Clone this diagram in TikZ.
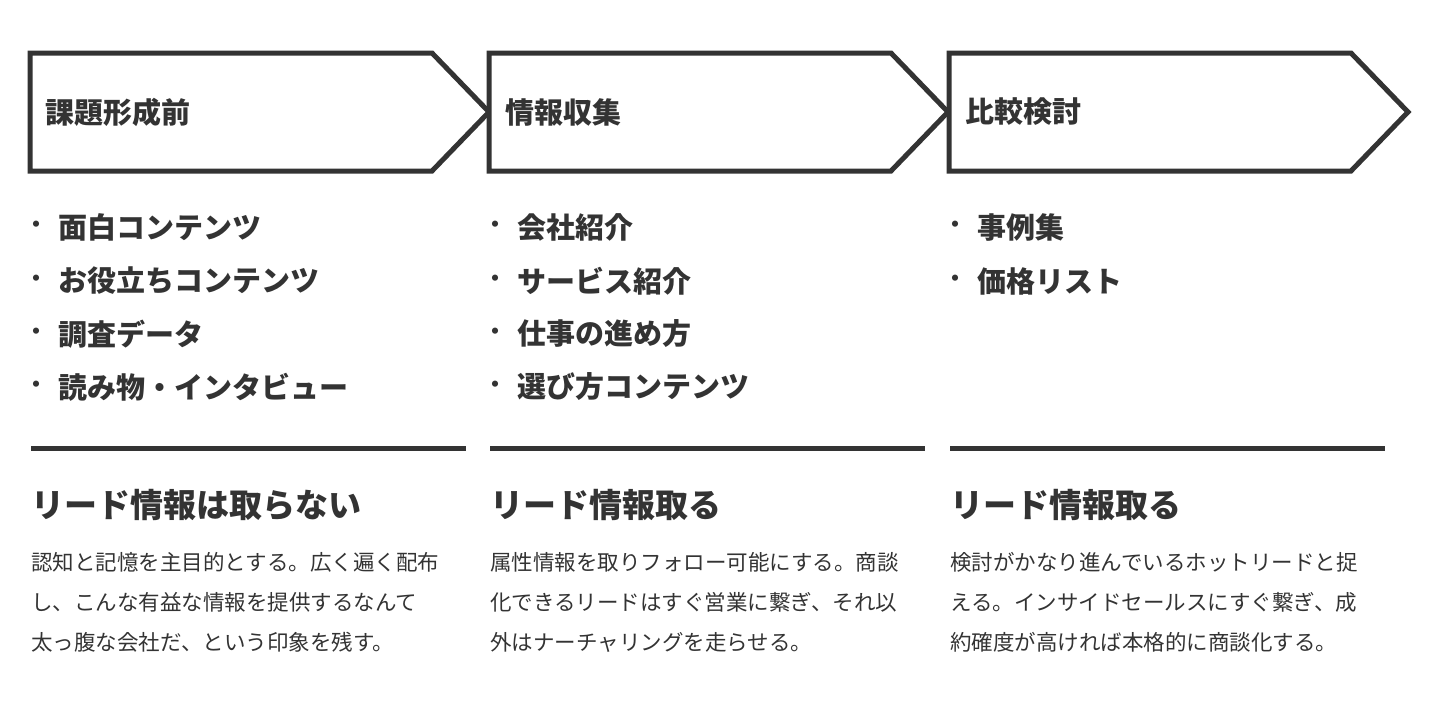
\documentclass[tikz,border=0pt]{standalone}
\usepackage{fontspec}
\newfontfamily\jp{Noto Sans CJK JP}
\definecolor{ink}{HTML}{333333}
\begin{document}
\begin{tikzpicture}[x=1pt,y=-1pt,
  chev/.style={draw=ink,line width=5pt,line join=miter,fill=white},
  ttl/.style={anchor=west,inner sep=0,text=ink,font=\jp\bfseries\fontsize{29}{33}\selectfont},
  item/.style={anchor=west,inner sep=0,text=ink,font=\jp\bfseries\fontsize{29}{33}\selectfont},
  bul/.style={anchor=center,inner sep=0,text=ink,font=\jp\bfseries\fontsize{22}{26}\selectfont},
  rule/.style={draw=ink,line width=5pt},
  head/.style={anchor=west,inner sep=0,text=ink,font=\jp\bfseries\fontsize{33}{38}\selectfont},
  body/.style={anchor=north west,inner sep=0,text=ink,align=left,font=\jp\fontsize{21.5}{40}\selectfont}]
\useasboundingbox (0,0) rectangle (1440,712);
\foreach \x/\n in {30/a,489/b,949/c}{
  \draw[chev] (\x,53) -- (\x+402,53) -- (\x+459,112) -- (\x+402,171) -- (\x,171) -- cycle;
  \draw[rule] (\x+1,448) -- (\x+436,448);
}
\node[ttl] (t1) at (45,112) {課題形成前};
\node[ttl] (t2) at (505,112) {情報収集};
\node[ttl] (t3) at (965,112) {比較検討};
\foreach \y/\s [count=\i] in {227/面白コンテンツ,281/お役立ちコンテンツ,334/調査データ,387/読み物・インタビュー}{
  \node[bul] (ba\i) at (36,\y) {・};
  \node[item] (ia\i) at (58,\y) {\s};}
\foreach \y/\s [count=\i] in {227/会社紹介,281/サービス紹介,334/仕事の進め方,387/選び方コンテンツ}{
  \node[bul] (bb\i) at (495,\y) {・};
  \node[item] (ib\i) at (517,\y) {\s};}
\foreach \y/\s [count=\i] in {227/事例集,281/価格リスト}{
  \node[bul] (bc\i) at (955,\y) {・};
  \node[item] (ic\i) at (977,\y) {\s};}
\node[head] (h1) at (31,505) {リード情報は取らない};
\node[head] (h2) at (490,505) {リード情報取る};
\node[head] (h3) at (950,505) {リード情報取る};
\node[body] (d1) at (31,552) {認知と記憶を主目的とする。広く遍く配布\\し、こんな有益な情報を提供するなんて\\太っ腹な会社だ、という印象を残す。};
\node[body] (d2) at (490,552) {属性情報を取りフォロー可能にする。商談\\化できるリードはすぐ営業に繋ぎ、それ以\\外はナーチャリングを走らせる。};
\node[body] (d3) at (950,552) {検討がかなり進んでいるホットリードと捉\\える。インサイドセールスにすぐ繋ぎ、成\\約確度が高ければ本格的に商談化する。};
\end{tikzpicture}
\end{document}
